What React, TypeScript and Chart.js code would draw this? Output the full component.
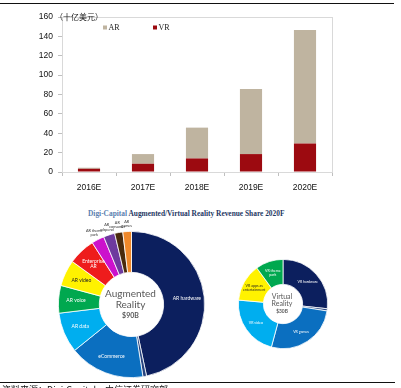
import React, { useEffect, useRef } from "react";
import { Chart, registerables } from "chart.js";

Chart.register(...registerables);

// ---------- data ----------
const years = ["2016E", "2017E", "2018E", "2019E", "2020E"];
const arRevenue = [1.1, 10.0, 31.8, 67.3, 117.3];
const vrRevenue = [3.3, 8.5, 14.0, 18.5, 29.4];
const yMin = 0;
const yMax = 160;
const yStep = 20;
const yUnitLabel = "（十亿美元）";

const titleLead = "Digi-Capital";
const titleRest = " Augmented/Virtual Reality Revenue Share 2020F";

const arSegments = [
  "AR hardware",
  "AR distribution",
  "eCommerce",
  "AR data",
  "AR voice",
  "AR video",
  "Enterprise\nAR",
  "AR theme\npark",
  "AR\nadspend",
  "AR\nconsumer",
  "AR\ngames",
];
const arShares = [46.7, 0.8, 16.7, 8.9, 6.1, 5.8, 6.0, 2.8, 2.5, 1.8, 1.9];
const arCenterText = ["Augmented", "Reality", "$90B"];

const vrSegments = [
  "VR hardware",
  "VR distribution",
  "VR games",
  "VR video",
  "VR apps as\nentertainment",
  "VR theme\npark",
];
const vrShares = [26.7, 0.8, 26.7, 22.2, 13.6, 10.0];
const vrCenterText = ["Virtual", "Reality", "$30B"];

const sourceNote = "资料来源：Digi-Capital，中信证券研究部";

// ---------- styles ----------
const AR_COLOR = "#BFB4A0";
const VR_COLOR = "#9C0A10";
const arColors = [
  "#0C1F5E", "#27437F", "#0B6FC0", "#00AEEF", "#00A84F", "#FFF200",
  "#EE1C1C", "#CC11CC", "#6E3A9E", "#4A2A0C", "#F0882A",
];
const arTextColors = [
  "#fff", "#fff", "#fff", "#fff", "#fff", "#222", "#fff", "#333", "#333", "#333", "#333",
];
const vrColors = ["#0C1F5E", "#27437F", "#0B6FC0", "#00AEEF", "#FFF200", "#00A84F"];
const vrTextColors = ["#fff", "#fff", "#fff", "#fff", "#222", "#fff"];

const axisFont = { family: "'Liberation Sans', Arial, sans-serif", size: 8.5 };

// ---------- plugins ----------
const framePlugin = {
  id: "plotFrame",
  beforeDatasetsDraw(chart: any) {
    const { ctx, chartArea } = chart;
    ctx.save();
    ctx.strokeStyle = "#D9D9D9";
    ctx.lineWidth = 1;
    ctx.strokeRect(
      Math.round(chartArea.left) + 0.5,
      Math.round(chartArea.top) + 0.5,
      Math.round(chartArea.right - chartArea.left),
      Math.round(chartArea.bottom - chartArea.top)
    );
    ctx.restore();
  },
};

const barLegendPlugin = {
  id: "barLegend",
  afterDraw(chart: any) {
    const { ctx, chartArea } = chart;
    const ds = [...chart.data.datasets].reverse();
    ctx.save();
    ctx.font = "8px 'Liberation Serif', serif";
    ctx.textBaseline = "middle";
    ctx.textAlign = "left";
    ds.forEach((d: any, i: number) => {
      const x = chartArea.left + 41 + i * 50;
      const y = chartArea.top + 10.5;
      ctx.fillStyle = d.backgroundColor;
      ctx.fillRect(x, y - 2, 4, 4);
      ctx.fillStyle = "#222";
      ctx.fillText(d.label, x + 5.5, y + 0.5);
    });
    ctx.restore();
  },
};

const unitPlugin = {
  id: "unitLabel",
  afterDraw(chart: any) {
    const { ctx, chartArea } = chart;
    ctx.save();
    ctx.font = "8px 'Noto Sans CJK SC', sans-serif";
    ctx.fillStyle = "#222";
    ctx.textBaseline = "middle";
    ctx.textAlign = "left";
    ctx.fillText(yUnitLabel, chartArea.left - 7, chartArea.top - 0.5);
    ctx.restore();
  },
};

const sliceLabelPlugin = {
  id: "sliceLabels",
  afterDatasetsDraw(chart: any, _args: any, opts: any) {
    const { ctx } = chart;
    const meta = chart.getDatasetMeta(0);
    const labels = chart.data.labels as string[];
    ctx.save();
    ctx.textAlign = "center";
    ctx.textBaseline = "middle";
    let cx = 0;
    let cy = 0;
    meta.data.forEach((arc: any, i: number) => {
      const p = arc.getProps(
        ["x", "y", "startAngle", "endAngle", "innerRadius", "outerRadius"],
        true
      );
      cx = p.x;
      cy = p.y;
      const span = p.endAngle - p.startAngle;
      if (span < 0.07) return;
      const mid = (p.startAngle + p.endAngle) / 2;
      let r: number;
      let color: string;
      let size = opts.labelSize;
      if (span < 0.2) {
        r = p.outerRadius + opts.outsideGap;
        color = "#333";
        size = opts.outsideSize;
      } else {
        r = (p.innerRadius + p.outerRadius) / 2 + opts.insideShift;
        color = opts.textColors[i];
      }
      const lx = p.x + Math.cos(mid) * r;
      const ly = p.y + Math.sin(mid) * r;
      const lines = labels[i].split("\n");
      ctx.font = `${size}px 'Lato', 'Liberation Sans', sans-serif`;
      ctx.fillStyle = color;
      const lh = size * 1.1;
      lines.forEach((ln: string, k: number) => {
        ctx.fillText(ln, lx, ly + (k - (lines.length - 1) / 2) * lh);
      });
    });
    // center text
    const ct: string[] = opts.centerText;
    ctx.fillStyle = "#595959";
    const sz = opts.centerSize;
    ctx.font = `${sz}px 'Lato', sans-serif`;
    ctx.fillText(ct[0], cx - 1, cy - sz * 1.05);
    ctx.fillText(ct[1], cx - 1, cy);
    ctx.font = `bold ${sz * 0.7}px 'Lato', sans-serif`;
    ctx.fillText(ct[2], cx - 1, cy + sz * 1.1);
    ctx.restore();
  },
};

// ---------- components ----------
function ChartCanvas({
  width,
  height,
  style,
  make,
}: {
  width: number;
  height: number;
  style: React.CSSProperties;
  make: () => any;
}) {
  const ref = useRef<HTMLCanvasElement | null>(null);
  useEffect(() => {
    if (!ref.current) return;
    const chart = new Chart(ref.current, make());
    return () => chart.destroy();
  }, []);
  return (
    <canvas
      ref={ref}
      width={width}
      height={height}
      style={{ position: "absolute", width, height, ...style }}
    />
  );
}

const makeBarConfig = () => ({
  type: "bar",
  data: {
    labels: years,
    datasets: [
      { label: "VR", data: vrRevenue, backgroundColor: VR_COLOR },
      { label: "AR", data: arRevenue, backgroundColor: AR_COLOR },
    ],
  },
  options: {
    animation: false,
    responsive: false,
    maintainAspectRatio: false,
    layout: { padding: { top: 17, right: 8, left: 0, bottom: 0 } },
    datasets: { bar: { barPercentage: 0.41, categoryPercentage: 1 } },
    plugins: { legend: { display: false }, tooltip: { enabled: false } },
    scales: {
      x: {
        stacked: true,
        grid: {
          display: true,
          drawOnChartArea: false,
          tickLength: 4,
          color: "#BFBFBF",
          offset: true,
        },
        border: { color: "#D9D9D9" },
        ticks: { font: axisFont, color: "#111", padding: 7, maxRotation: 0 },
        afterFit: (s: any) => {
          s.height = 28;
        },
      },
      y: {
        stacked: true,
        min: yMin,
        max: yMax,
        ticks: { stepSize: yStep, font: axisFont, color: "#111", padding: 5 },
        grid: { drawOnChartArea: false, tickLength: 4, color: "#BFBFBF" },
        border: { color: "#D9D9D9" },
        afterFit: (s: any) => {
          s.width = 62;
        },
      },
    },
  },
  plugins: [framePlugin, barLegendPlugin, unitPlugin],
});

const makeDonutConfig = (
  labels: string[],
  values: number[],
  colors: string[],
  textColors: string[],
  centerText: string[],
  pad: number,
  labelSize: number,
  centerSize: number,
  insideShift: number
) => () => ({
  type: "doughnut",
  data: {
    labels,
    datasets: [
      {
        data: values,
        backgroundColor: colors,
        borderColor: "#ffffff",
        borderWidth: 0.8,
      },
    ],
  },
  options: {
    animation: false,
    responsive: false,
    maintainAspectRatio: false,
    cutout: "44%",
    layout: { padding: pad },
    plugins: {
      legend: { display: false },
      tooltip: { enabled: false },
      sliceLabels: {
        textColors,
        centerText,
        labelSize,
        centerSize,
        insideShift,
        outsideGap: 8,
        outsideSize: 3.8,
      },
    },
  },
  plugins: [sliceLabelPlugin],
});

export default function App() {
  return (
    <div
      style={{
        position: "fixed",
        left: 0,
        top: 0,
        width: 401,
        height: 388,
        overflow: "hidden",
        background: "#fff",
      }}
    >
      <div
        style={{
          position: "absolute",
          left: 0,
          top: 3,
          width: 394,
          height: 1,
          background: "#111",
        }}
      />
      <ChartCanvas width={340} height={200} style={{ left: 0, top: 0 }} make={makeBarConfig} />
      <div
        style={{
          position: "absolute",
          left: 88,
          top: 209,
          whiteSpace: "nowrap",
          fontFamily: "'Liberation Serif', serif",
          fontWeight: "bold",
          fontSize: 7.4,
          color: "#1F3864",
          lineHeight: "10px",
        }}
      >
        <span style={{ color: "#5B7FAF" }}>{titleLead}</span>
        {titleRest}
      </div>
      <ChartCanvas
        width={185}
        height={185}
        style={{ left: 39, top: 212 }}
        make={makeDonutConfig(
          arSegments,
          arShares,
          arColors,
          arTextColors,
          arCenterText,
          19,
          5,
          10,
          3
        )}
      />
      <ChartCanvas
        width={100}
        height={100}
        style={{ left: 233, top: 254 }}
        make={makeDonutConfig(
          vrSegments,
          vrShares,
          vrColors,
          vrTextColors,
          vrCenterText,
          5,
          3.6,
          7,
          1
        )}
      />
      <div
        style={{
          position: "absolute",
          left: 0,
          top: 382,
          width: 395,
          height: 1,
          background: "#111",
        }}
      />
      <div
        style={{
          position: "absolute",
          left: 2,
          top: 384,
          whiteSpace: "nowrap",
          fontFamily: "'Noto Sans CJK SC', sans-serif",
          fontSize: 9,
          lineHeight: "11px",
          color: "#111",
        }}
      >
        {sourceNote}
      </div>
    </div>
  );
}
